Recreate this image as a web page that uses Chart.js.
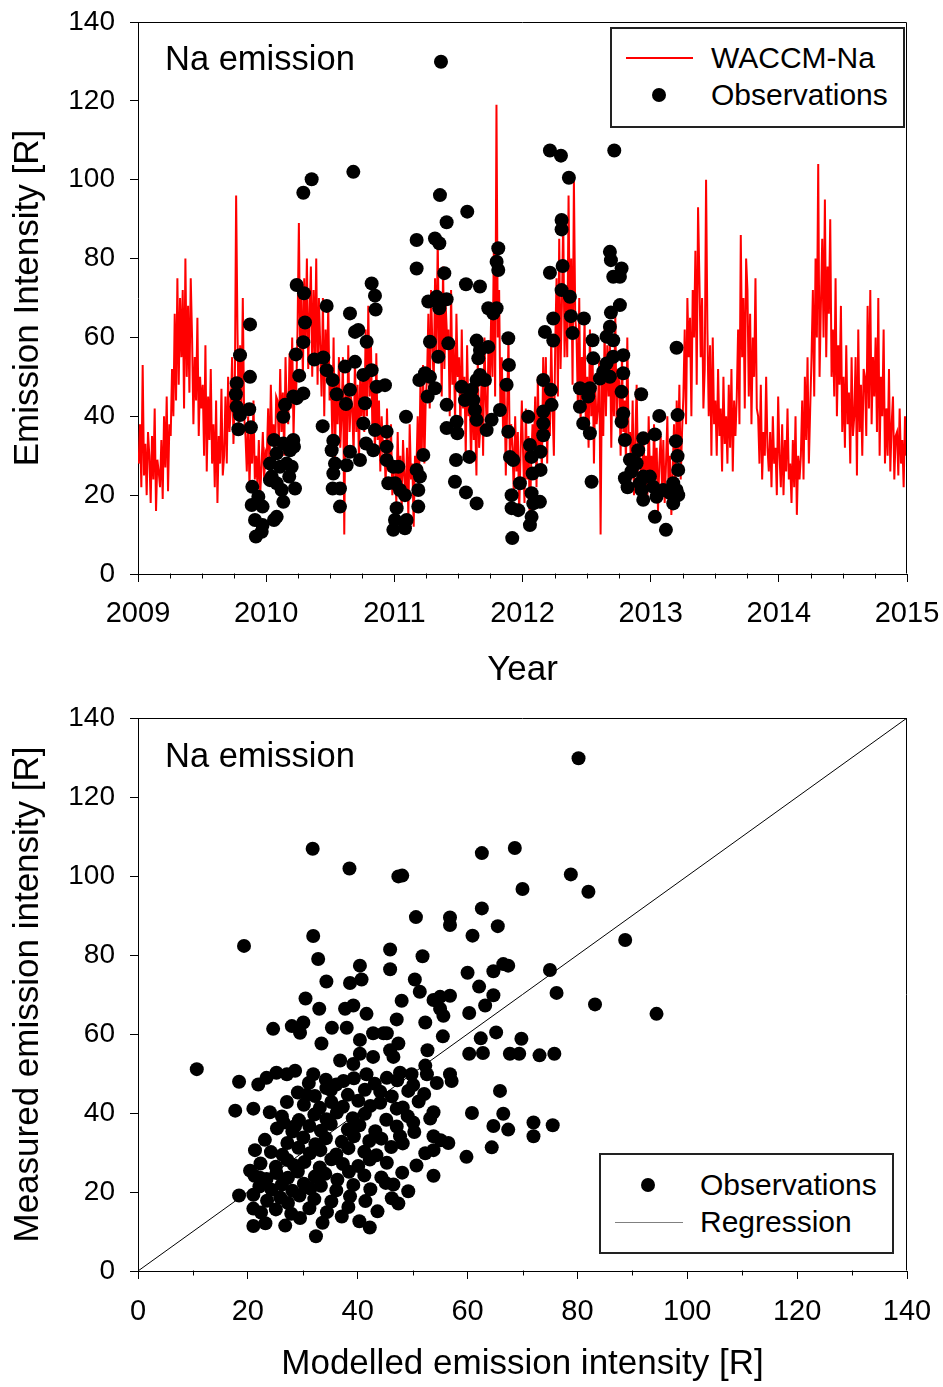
<!DOCTYPE html>
<html>
<head>
<meta charset="utf-8">
<script src="https://cdn.jsdelivr.net/npm/chart.js@4.4.0/dist/chart.umd.min.js"></script>
<style>
body { margin: 0; background: #fff; font-family: "Liberation Sans", Arial, sans-serif; }
#page { position: relative; width: 943px; height: 1387px; overflow: hidden; background: #fff; }
.box { position: absolute; left: 0; width: 943px; }
.lbl { position: absolute; white-space: nowrap; line-height: 1; color: #000; }
.legend { position: absolute; border: 2px solid #222; box-sizing: border-box; background: #fff; }
.dot { position: absolute; width: 14px; height: 14px; border-radius: 7px; background: #000; }
.seg { position: absolute; height: 0; }
</style>
</head>
<body>
<div id="page">
  <div class="box" style="top:0;height:693px"><canvas id="seriesChart" width="943" height="693"></canvas></div>
  <div class="box" style="top:693px;height:694px"><canvas id="scatterChart" width="943" height="694"></canvas></div>

  <div class="lbl" style="left:165px;top:41px;font-size:34.5px">Na emission</div>
  <div class="legend" style="left:610px;top:27px;width:295px;height:101px"></div>
  <div class="seg" style="left:626px;top:57px;width:67px;border-top:2px solid #ff0000"></div>
  <div class="lbl" style="left:711px;top:43px;font-size:30px">WACCM-Na</div>
  <div class="dot" style="left:652px;top:88px"></div>
  <div class="lbl" style="left:711px;top:80px;font-size:30px">Observations</div>

  <div class="lbl" style="left:165px;top:738px;font-size:34.5px">Na emission</div>
  <div class="legend" style="left:599px;top:1153px;width:295px;height:101px"></div>
  <div class="dot" style="left:641px;top:1178px"></div>
  <div class="lbl" style="left:700px;top:1170px;font-size:30px">Observations</div>
  <div class="seg" style="left:615px;top:1222px;width:68px;border-top:1px solid #808080"></div>
  <div class="lbl" style="left:700px;top:1207px;font-size:30px">Regression</div>
</div>
<script>
// WACCM-Na modelled intensity, 8 samples per month, Jan 2009 - Dec 2014
var waccmNa = [
  28,38,22,53,25,33,20,36, 30,18,35,24,42,16,29,26, 22,34,19,40,27,45,21,38, 35,52,40,66,44,75,48,70, 55,72,42,80,50,68,46,75, 60,38,55,44,65,35,50,42, 48,30,58,26,45,34,52,28, 38,22,44,18,35,28,47,25, 30,45,28,50,36,42,55,33, 45,96,62,38,58,42,70,40, 35,26,40,22,36,28,44,24, 30,22,34,20,27,36,24,31,
  30,42,26,48,34,38,28,45, 44,32,52,36,46,30,55,40, 38,56,42,60,35,50,46,62, 89,55,70,50,75,58,80,52, 66,78,50,72,55,80,48,70, 58,45,70,40,62,50,68,44, 52,35,60,28,48,38,55,32, 40,55,10,48,32,58,36,45, 42,30,55,36,48,28,52,40, 50,36,62,40,68,45,58,38, 48,30,56,34,44,26,40,32, 34,22,42,26,30,38,20,28,
  28,18,36,22,30,16,34,25, 20,32,14,38,24,28,12,30, 26,40,22,48,30,53,28,44, 50,66,42,72,58,48,75,55, 85,55,70,45,78,52,68,60, 62,40,72,48,58,38,66,50, 55,36,62,42,50,30,58,40, 44,28,50,34,40,25,55,32, 38,52,30,60,44,35,58,48, 65,50,82,45,119,60,72,40, 55,35,48,25,42,60,30,38, 32,20,40,26,36,15,30,44,
  30,18,42,24,35,12,28,38, 32,45,22,50,30,40,26,55, 38,55,28,48,35,60,42,30, 58,75,45,85,52,68,90,55, 72,55,96,60,80,48,100,65, 60,42,70,38,55,48,65,35, 50,32,62,40,55,28,48,38, 42,55,10,50,35,62,40,58, 45,60,32,55,40,66,38,52, 48,30,56,36,44,28,60,34, 36,24,44,20,34,48,26,30, 28,20,36,24,30,18,40,25,
  30,20,38,24,32,16,28,35, 22,34,18,28,40,20,30,15, 26,38,20,44,30,48,24,36, 45,62,38,70,55,65,40,72, 60,82,48,93,75,55,70,42, 52,100,62,40,58,30,60,38, 44,30,52,35,42,26,50,33, 40,28,48,32,52,26,44,35, 45,62,38,86,55,70,42,80, 72,45,66,38,60,50,75,42, 40,28,48,24,36,30,50,32, 26,36,22,40,28,32,20,45,
  30,22,38,20,34,26,42,24, 28,18,34,22,40,15,30,24, 30,44,24,50,34,55,28,42, 55,72,45,80,60,104,50,68, 85,60,95,55,78,66,90,50, 62,45,75,40,58,48,68,36, 50,32,58,38,46,28,55,35, 40,55,25,62,36,48,30,52, 50,35,68,42,72,38,55,45, 60,36,70,30,50,40,62,28, 42,30,52,26,38,45,24,35, 36,25,42,28,34,22,40,30
];

// observations: date (decimal year) and intensity [R]
var obsYear = [
  2009.874,2009.796,2009.770,2009.764,2009.874,2009.770,2009.796,2009.868,2009.783,2009.881,2009.892,2009.939,2009.887,2009.972,2009.913,2009.972,2009.920,2009.965,
  2010.290,2010.355,2010.680,2010.061,2010.030,2010.043,2010.082,2010.108,2010.134,2010.160,2010.186,2010.212,2010.217,2010.199,2010.180,2010.225,2010.121,2010.134,2010.082,2010.061,2010.030,2010.082,
  2010.134,2010.147,2010.212,2010.238,2010.290,2010.232,2010.258,2010.290,2010.303,2010.238,2010.295,2010.376,2010.446,2010.472,2010.472,2010.519,2010.550,2010.524,2010.511,2010.537,2010.524,2010.519,
  2010.576,2010.576,2010.441,2010.615,2010.654,2010.693,2010.719,2010.693,2010.654,2010.623,2010.628,2010.654,2010.732,2010.784,2010.823,2010.849,2010.854,2010.823,2010.758,2010.758,2010.771,2010.779,
  2010.836,2010.849,2010.862,2010.927,2010.940,2010.940,2010.953,
  2011.364,2010.940,2010.992,2011.031,2011.005,2011.044,2011.083,2011.018,2011.005,2010.992,2011.083,2011.096,2011.187,2011.187,2011.200,2011.174,2011.226,2011.091,2011.174,2011.174,2011.195,2011.239,
  2011.278,2011.260,2011.317,2011.278,2011.265,2011.330,2011.351,2011.408,2011.317,2011.351,2011.356,2011.408,2011.390,2011.343,2011.421,2011.408,2011.408,2011.486,2011.491,2011.481,2011.473,2011.525,
  2011.559,2011.569,2011.559,2011.585,2011.642,2011.590,2011.551,2011.642,2011.668,2011.668,2011.655,2011.603,2011.616,2011.642,2011.629,2011.668,2011.707,2011.642,2011.720,2011.759,2011.733,2011.733,
  2011.772,2011.798,2011.811,2011.798,2011.811,2011.824,2011.889,2011.894,2011.876,2011.889,2011.902,2011.928,2011.915,2011.915,2011.920,2011.967,2011.980,
  2012.045,2012.058,2012.071,2012.079,2012.071,2012.084,2012.071,2012.058,2012.136,2012.141,2012.141,2012.162,2012.162,2012.162,2012.162,2012.222,2012.227,2012.175,2012.240,2012.240,2012.214,2012.313,
  2012.305,2012.370,2012.378,2012.391,2012.305,2012.305,2012.214,2012.300,2012.362,2012.716,2012.479,2012.547,2012.552,2012.448,2012.526,2012.513,2012.448,2012.474,2012.526,2012.539,2012.604,2012.630,
  2012.656,2012.682,2012.656,2012.708,2012.682,2012.690,2012.760,2012.682,2012.690,2012.773,2012.708,2012.760,2012.708,2012.786,2012.786,2012.773,2012.786,2012.773,2012.799,2012.799,
  2013.202,2013.067,2013.210,2013.033,2013.197,2013.210,2012.942,2012.903,2012.864,2012.838,2012.942,2012.994,2013.020,2012.929,2012.942,2013.046,2013.033,2013.119,2013.176,2013.202,2013.215,2013.176,
  2013.098,2013.150,2013.215,2012.890,2012.916,2012.926,2012.820,2012.850
];
var obsIntensity = [
  63.3,55.5,48.4,45.6,50.0,42.4,40.3,41.8,36.7,37.2,22.1,19.6,17.5,17.1,13.7,12.4,9.5,10.7,
  96.7,100.1,102.0,34.0,28.0,24.7,30.6,27.2,33.1,28.0,31.4,34.0,32.3,27.2,24.7,21.7,21.3,18.3,14.5,13.7,23.8,23.0,
  39.9,42.9,45.0,44.6,45.8,55.7,50.3,58.8,63.8,73.3,71.2,54.4,54.9,68.0,51.7,49.2,45.6,33.8,31.4,28.0,25.5,21.7,
  21.7,17.1,37.5,52.6,66.1,61.4,61.9,53.8,46.7,43.1,27.6,31.0,28.9,58.9,73.7,70.6,67.1,51.7,50.5,38.2,43.3,33.1,
  31.4,36.5,47.5,47.9,36.1,32.3,23.0,
  129.9,28.9,27.2,27.2,23.0,21.3,20.0,16.7,13.7,11.2,11.6,13.7,21.3,17.1,24.7,26.4,30.2,39.9,84.7,77.5,49.2,50.9,
  50.0,45.0,47.1,58.9,69.1,70.3,67.4,69.7,85.1,83.9,96.1,89.2,76.3,55.1,58.5,42.9,37.0,38.6,35.7,28.9,23.4,47.5,
  20.7,91.9,73.5,29.7,17.9,45.0,44.1,59.2,72.9,56.8,54.7,46.7,44.1,49.2,41.6,50.5,49.2,39.1,36.5,39.1,57.6,67.4,
  66.1,67.4,82.6,79.2,77.1,41.6,59.8,53.0,48.0,36.1,29.7,28.9,20.0,16.7,9.1,16.2,23.0,
  39.9,32.7,29.7,25.5,20.5,17.9,14.5,12.4,18.3,26.4,31.0,38.2,35.2,41.2,49.2,46.7,42.9,61.4,59.2,64.8,76.4,78.1,
  72.0,70.3,65.4,61.1,89.8,87.4,107.4,106.1,100.5,107.4,64.8,59.3,54.7,47.1,47.1,45.0,42.4,38.2,35.7,23.4,49.6,51.3,
  53.4,50.0,60.2,59.3,62.7,66.3,68.2,81.7,79.6,77.5,75.4,75.4,55.1,55.5,50.9,46.2,40.7,38.6,34.0,24.3,
  57.4,40.1,40.3,35.4,33.7,29.9,34.4,31.4,28.1,29.0,24.7,24.7,22.1,21.3,18.8,19.6,14.5,11.2,17.9,21.3,26.4,23.0,
  21.3,20.5,20.0,28.1,23.0,45.6,22.0,26.0
];

// scatter: modelled vs measured emission intensity [R]
var modelled = [
  31.8,38.5,47.4,19.3,31.9,32.8,45.9,45.9,40.4,34.3,38.6,40.7,30.5,33.0,37.7,39.2,41.6,24.6,28.0,30.1,29.5,33.4,35.3,38.0,40.4,42.8,45.3,47.1,
  10.7,18.4,17.7,21.0,21.9,23.4,25.2,27.1,28.6,24.0,27.1,26.5,28.6,30.7,31.9,34.3,36.8,37.4,39.2,40.4,41.6,42.8,44.1,45.3,46.5,47.1,
  21.3,20.4,22.2,21.0,21.0,21.0,18.4,32.4,42.2,
  80.2,62.6,68.6,48.1,78.8,70.0,82.0,62.6,50.6,56.8,56.8,60.9,65.5,88.7,51.8,60.0,64.7,66.5,67.4,75.0,50.4,51.3,48.0,53.8,55.0,56.8,55.0,55.6,
  62.1,63.2,64.7,76.2,83.2,94.4,60.3,52.3,44.7,55.5,47.4,45.9,52.7,62.4,65.2,69.8,60.3,62.8,67.7,69.4,73.1,75.8,52.3,47.7,49.8,52.6,54.4,56.8,
  57.1,65.9,60.8,53.8,50.1,64.7,66.5,67.4,72.0,72.0,75.5,53.8,56.5,53.8,64.4,59.8,47.7,50.7,53.8,49.2,47.4,46.5,
  23.2,26.8,29.5,33.6,37.1,40.3, 22.4,25.1,27.9,31.2,34.4,38.3,43.6, 23.5,25.9,27.3,29.4,32.1,35.2,38.6,41.4,46.2,
  22.1,24.3,26.2,28.1,30.2,31.4,33.3,36.1,39.2,42.3,45.1, 21.2,23.4,25.2,27.3,29.1,32.2,34.1,36.3,38.4,41.2,44.3,48.1,
  22.3,25.1,27.2,28.4,30.3,33.1,35.2,37.3,40.1,42.2,45.3, 24.2,26.3,29.2,31.3,33.2,36.1,38.3,41.2,43.4,46.1,52.3,
  23.1,27.2,30.1,32.3,34.2,37.1,39.3,42.1,44.3,48.2,55.1, 25.3,28.1,31.2,33.3,35.1,38.2,40.3,43.2,47.1,50.3,
  26.2,29.3,32.1,34.3,36.2,39.1,41.3,45.2,49.1,53.2, 30.2,33.1,35.2,37.3,40.1,42.3,44.1,48.2,51.1,
  29.1,32.2,35.1,38.2,41.3,46.2,49.2,52.1, 31.1,34.2,36.1,39.3,43.1,47.2,50.1
];
var measured = [
  106.9,101.9,99.9,82.3,84.8,79.0,81.4,76.4,77.3,73.3,72.9,73.8,69.0,66.4,66.4,67.2,65.1,61.3,62.0,62.9,60.3,57.6,61.6,61.6,58.5,60.2,60.2,63.7,
  51.1,47.9,40.6,41.1,47.2,48.9,50.2,49.8,50.7,40.2,42.8,37.6,36.7,44.6,49.8,46.3,53.3,48.1,52.4,55.0,49.8,54.2,45.4,48.9,54.2,41.1,
  30.6,25.4,23.6,19.3,15.8,11.4,19.1,8.8,11.0,
  129.8,105.8,107.1,100.1,100.4,96.7,96.0,91.8,89.6,89.5,87.6,84.9,87.3,83.8,79.7,75.5,75.9,77.7,77.3,76.2,73.8,70.7,68.4,68.6,69.4,69.7,66.4,64.6,
  72.0,67.2,69.8,70.4,67.5,65.1,65.3,62.9,60.2,59.4,57.6,55.9,55.9,58.9,60.4,58.8,55.0,55.2,55.0,55.0,54.6,55.0,52.0,50.2,49.8,49.8,47.6,49.8,
  48.1,45.6,40.0,40.2,37.6,36.7,39.8,35.8,37.6,34.1,36.9,34.1,32.4,30.6,31.3,28.9,34.1,26.7,24.1,20.2,17.1,21.9,
  12.1,11.5,13.4,12.2,13.8,12.6, 14.8,15.6,14.5,15.9,14.9,16.2,15.1, 17.8,18.6,17.2,19.1,18.2,17.6,18.9,17.7,18.4,
  21.4,20.6,21.9,20.3,22.1,20.9,21.6,20.4,21.8,20.7,22.3, 24.1,23.3,24.8,23.6,25.2,23.9,24.6,23.1,25.1,24.2,23.7,24.9,
  27.2,26.4,28.1,26.8,27.6,26.2,28.3,27.1,26.6,28.2,27.4, 30.1,29.4,31.2,29.8,30.6,29.5,31.1,30.2,29.3,31.4,29.8,
  33.2,32.4,33.8,32.1,33.6,32.7,34.1,32.9,33.5,32.3,33.1, 36.1,35.3,36.7,35.5,37.2,35.8,36.9,35.4,36.6,35.2,
  39.1,38.2,39.6,38.4,40.1,38.7,39.8,38.3,39.2,38.6, 42.1,41.3,42.8,41.6,43.1,41.8,42.6,41.4,42.9,
  45.2,44.3,45.8,44.6,45.9,44.2,45.6,44.8, 47.6,48.4,47.2,48.8,47.4,48.3,47.1
];
var regressionX = [0, 140];
var regressionY = [0, 140];

var yearTicks = [2009, 2010, 2011, 2012, 2013, 2014, 2015];
var yearLabels = ['2009', '2010', '2011', '2012', '2013', '2014', '2015'];
var intensityTicks = [0, 20, 40, 60, 80, 100, 120, 140];
var intensityLabels = ['0', '20', '40', '60', '80', '100', '120', '140'];

var minorYears = [];
for (var y = 2009; y < 2015; y++) {
  minorYears.push(y + 0.25, y + 0.5, y + 0.75);
}
var minorIntensity = [10, 30, 50, 70, 90, 110, 130];

Chart.defaults.font.family = '"Liberation Sans", Arial, sans-serif';
Chart.defaults.color = '#000';

// frame on top/right and short minor ticks under the x axis
var frameAndMinor = {
  id: 'frameAndMinor',
  afterDraw: function(chart, args, opts) {
    var a = chart.chartArea, ctx = chart.ctx, xs = chart.scales.x;
    var L = Math.round(a.left) + 0.5, R = Math.round(a.right) - 0.5;
    var T = Math.round(a.top) + 0.5, B = Math.round(a.bottom) - 0.5;
    ctx.save();
    ctx.strokeStyle = '#000';
    ctx.lineWidth = 1;
    ctx.beginPath();
    ctx.moveTo(L, T); ctx.lineTo(R, T); ctx.lineTo(R, B);
    opts.minor.forEach(function(v) {
      var p = Math.round(xs.getPixelForValue(v)) + 0.5;
      ctx.moveTo(p, B); ctx.lineTo(p, B + 5);
    });
    ctx.stroke();
    ctx.restore();
  }
};

// no extra room for overflowing labels, the layout padding fixes the plot box
function noOverflow(s) {
  s.paddingTop = 0; s.paddingBottom = 0; s.paddingLeft = 0; s.paddingRight = 0;
}

function makeScales(xMin, xMax, xTicks, xLabels, xTitle, xHeight, xPad, yTitle) {
  return {
    x: {
      type: 'linear', min: xMin, max: xMax,
      afterBuildTicks: function(s) { s.ticks = xTicks.map(function(v) { return {value: v}; }); },
      afterFit: function(s) { s.height = xHeight; noOverflow(s); },
      ticks: { callback: function(v, i) { return xLabels[i]; }, font: {size: 29}, padding: xPad, maxRotation: 0, autoSkip: false },
      grid: { drawOnChartArea: false, tickLength: 8, color: '#000' },
      border: { color: '#000' },
      title: { display: true, text: xTitle, font: {size: 35}, padding: {top: 0, bottom: 2} }
    },
    y: {
      type: 'linear', min: 0, max: 140,
      afterBuildTicks: function(s) { s.ticks = intensityTicks.map(function(v) { return {value: v}; }); },
      afterFit: function(s) { s.width = 138; noOverflow(s); },
      ticks: { callback: function(v, i) { return intensityLabels[i]; }, font: {size: 28}, padding: 15 },
      grid: { drawOnChartArea: false, tickLength: 8, color: '#000' },
      border: { color: '#000' },
      title: { display: true, text: yTitle, font: {size: 35}, padding: {top: 7, bottom: 0} }
    }
  };
}

var linePoints = waccmNa.map(function(v, i) { return {x: 2009 + (i + 0.5) / 96, y: v}; });
var obsPoints = obsYear.map(function(t, i) { return {x: t, y: obsIntensity[i]}; });

new Chart(document.getElementById('seriesChart'), {
  type: 'scatter',
  data: {
    datasets: [
      { label: 'Observations', data: obsPoints, pointRadius: 7, pointBackgroundColor: '#000', pointBorderWidth: 0, order: 0 },
      { label: 'WACCM-Na', data: linePoints, showLine: true, borderColor: '#ff0000', borderWidth: 2, pointRadius: 0, order: 1 }
    ]
  },
  options: {
    responsive: false, animation: false, events: [],
    layout: { padding: {top: 22, right: 36, left: 0, bottom: 0} },
    scales: makeScales(2009, 2015, yearTicks, yearLabels, 'Year', 119, 15, 'Emission Intensity [R]'),
    plugins: { legend: {display: false}, tooltip: {enabled: false}, frameAndMinor: {minor: minorYears} }
  },
  plugins: [frameAndMinor]
});

var scatterPoints = modelled.map(function(m, i) { return {x: m, y: measured[i]}; });
var regressionPoints = regressionX.map(function(x, i) { return {x: x, y: regressionY[i]}; });

new Chart(document.getElementById('scatterChart'), {
  type: 'scatter',
  data: {
    datasets: [
      { label: 'Observations', data: scatterPoints, pointRadius: 7, pointBackgroundColor: '#000', pointBorderWidth: 0, order: 0 },
      { label: 'Regression', data: regressionPoints, showLine: true, borderColor: '#000', borderWidth: 1, pointRadius: 0, order: 1 }
    ]
  },
  options: {
    responsive: false, animation: false, events: [],
    layout: { padding: {top: 25, right: 36, left: 0, bottom: 0} },
    scales: makeScales(0, 140, intensityTicks, intensityLabels, 'Modelled emission intensity [R]', 116, 16, 'Measured emission intensity [R]'),
    plugins: { legend: {display: false}, tooltip: {enabled: false}, frameAndMinor: {minor: minorIntensity} }
  },
  plugins: [frameAndMinor]
});
</script>
</body>
</html>
